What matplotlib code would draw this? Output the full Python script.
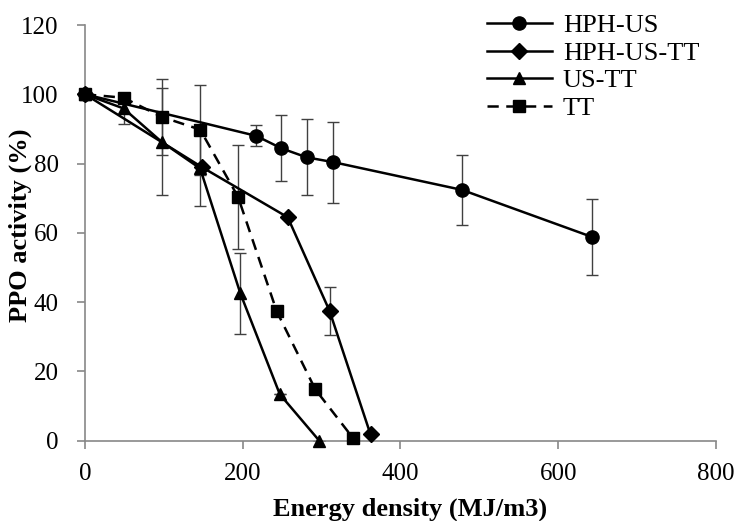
import matplotlib
matplotlib.use("Agg")
import matplotlib.pyplot as plt

plt.rcParams['font.family'] = ['Liberation Serif', 'DejaVu Serif']

# HPH-US
hph_us_x = [0, 217, 249, 281, 315, 478, 643]
hph_us_y = [100, 88, 84.4, 81.8, 80.4, 72.4, 58.8]
hph_us_err = [0, 3, 9.5, 11, 11.7, 10, 11]

# HPH-US-TT
hph_us_tt_x = [0, 148, 257, 310, 362]
hph_us_tt_y = [100, 79, 64.5, 37.5, 1.8]
hph_us_tt_err = [0, 0, 0, 7, 0]

# US-TT
us_tt_x = [0, 49, 97, 146, 197, 247, 297]
us_tt_y = [100, 95.9, 86.3, 78.6, 42.5, 13.4, 0]
us_tt_err = [0, 4.6, 15.5, 10.9, 11.7, 0, 0]

# TT
tt_x = [0, 49, 97, 146, 194, 243, 292, 340]
tt_y = [100, 99, 93.5, 89.8, 70.4, 37.4, 14.8, 0.7]
tt_err = [0, 0, 11, 13, 15, 0, 0, 0]

x_ticks = [0, 200, 400, 600, 800]
y_ticks = [0, 20, 40, 60, 80, 100, 120]

W, H = 739, 521
fig = plt.figure(figsize=(W / 100, H / 100), dpi=100)
ax = fig.add_axes([85 / W, 1 - 440.7 / H, (716 - 85) / W, (440.7 - 25) / H])

err_kw = dict(ecolor='#404040', elinewidth=1.0, capsize=4.5, capthick=1.0)

series = [
    (hph_us_x, hph_us_y, hph_us_err, 'o', 9.5, '-', 'HPH-US'),
    (hph_us_tt_x, hph_us_tt_y, hph_us_tt_err, 'D', 8.5, '-', 'HPH-US-TT'),
    (us_tt_x, us_tt_y, us_tt_err, '^', 8.5, '-', 'US-TT'),
    (tt_x, tt_y, tt_err, 's', 9, (0, (4.5, 3)), 'TT'),
]

handles = []
for xs, ys, es, mk, ms, ls, lab in series:
    ax.errorbar(xs, ys, yerr=es, fmt='none', **err_kw, zorder=2)
    h, = ax.plot(xs, ys, color='black', marker=mk, markersize=ms,
                 linestyle=ls, linewidth=1.8, label=lab, zorder=3,
                 clip_on=False)
    handles.append(h)

ax.set_xlim(0, 800)
ax.set_ylim(0, 120)
ax.set_xticks(x_ticks)
ax.set_yticks(y_ticks)
ax.tick_params(axis='both', direction='out', length=6, width=1.2,
               color='#888888', labelsize=18)
ax.tick_params(axis='x', pad=10)
ax.tick_params(axis='y', pad=13)

for side in ['top', 'right']:
    ax.spines[side].set_visible(False)
for side in ['left', 'bottom']:
    ax.spines[side].set_color('#888888')
    ax.spines[side].set_linewidth(1.2)

fig.text(410 / W, 1 - 509 / H, 'Energy density (MJ/m3)', fontsize=19,
         fontweight='bold', ha='center', va='center')
fig.text(20 / W, 1 - 225 / H, 'PPO activity (%)', fontsize=19,
         fontweight='bold', ha='center', va='center', rotation=90)

leg = fig.legend(handles=handles, loc='upper left',
                 bbox_to_anchor=(487 / W, 1 - 14 / H), frameon=False,
                 fontsize=19, handlelength=2.45, handletextpad=0.42,
                 labelspacing=0.15, borderpad=0, borderaxespad=0)

fig.savefig('out.png', dpi=100)
